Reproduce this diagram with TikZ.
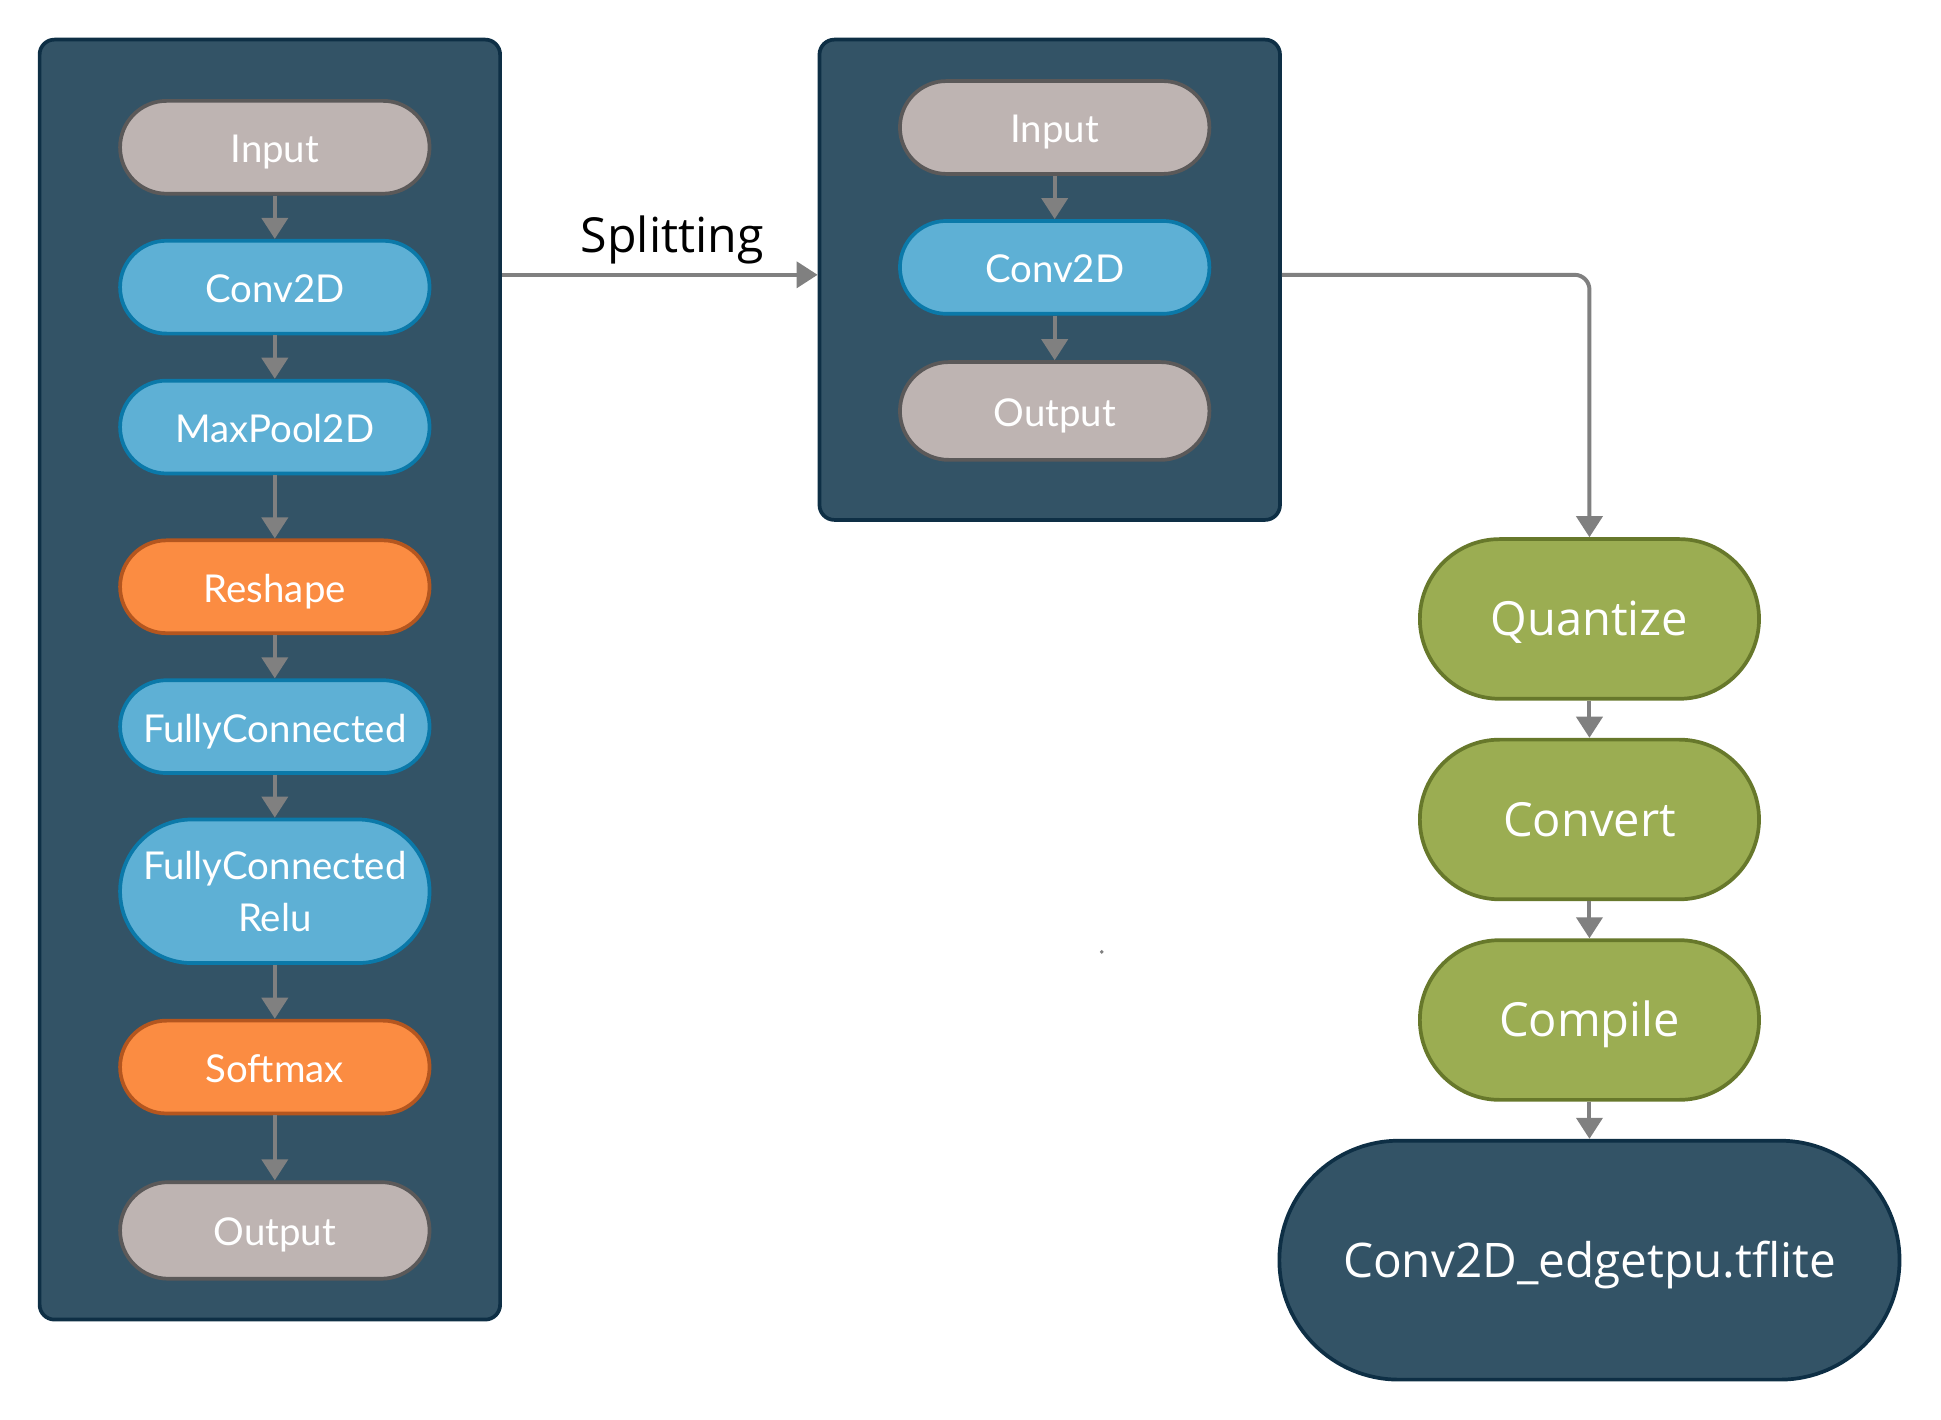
\documentclass[tikz,border=0pt]{standalone}
\usepackage{fontspec}
\setmainfont{Open Sans}
\newfontfamily\latofont{Lato}
\usetikzlibrary{arrows.meta,calc}
\definecolor{panelfill}{HTML}{335366}
\definecolor{panelline}{HTML}{0E2F45}
\definecolor{grayfill}{HTML}{BEB4B2}
\definecolor{grayline}{HTML}{5B5959}
\definecolor{bluefill}{HTML}{5EB0D5}
\definecolor{blueline}{HTML}{0B79A9}
\definecolor{orangefill}{HTML}{FB8C42}
\definecolor{orangeline}{HTML}{B4561F}
\definecolor{greenfill}{HTML}{9BAD52}
\definecolor{greenline}{HTML}{67782B}
\definecolor{arrowgray}{HTML}{808080}
\tikzset{
  panel/.style={draw=panelline, fill=panelfill, line width=3pt, rounded corners=12pt, inner sep=0pt},
  layerbase/.style={line width=3pt, minimum width=250pt, minimum height=75pt, rounded corners=37.5pt,
    inner sep=0pt, text=white, font=\latofont\fontsize{31}{42}\selectfont, align=center},
  tfix/.style={text height=29.5pt, text depth=4.6pt},
  graynode/.style={layerbase, tfix, draw=grayline, fill=grayfill},
  bluenode/.style={layerbase, tfix, draw=blueline, fill=bluefill},
  bluetwo/.style={layerbase, draw=blueline, fill=bluefill, minimum height=116pt, rounded corners=58pt},
  orangenode/.style={layerbase, tfix, draw=orangeline, fill=orangefill},
  stepnode/.style={draw=greenline, fill=greenfill, line width=3pt, minimum width=274pt, minimum height=129pt,
    rounded corners=64.5pt, inner sep=0pt, text=white, font=\fontsize{38}{46}\selectfont,
    text height=35.3pt, text depth=8.4pt},
  finalnode/.style={draw=panelline, fill=panelfill, line width=3pt, minimum width=501pt, minimum height=193pt,
    rounded corners=96.5pt, inner sep=0pt, text=white, font=\fontsize{38.5}{46}\selectfont,
    text height=35.8pt, text depth=8.5pt},
  arr/.style={draw=arrowgray, line width=3.2pt, -{Triangle[width=21pt,length=17pt]}},
}
\begin{document}
\begin{tikzpicture}[x=1pt,y=-1pt]
\useasboundingbox (0,0) rectangle (1568,1147);
% panels
\node[panel, minimum width=372pt, minimum height=1034pt] (lp) at (218,549) {};
\node[panel, minimum width=372pt, minimum height=388pt] (mp) at (848,226) {};
% left column
\node[graynode] (lin) at (222,119) {Input};
\node[bluenode] (lc) at (222,232) {Conv2D};
\node[bluenode] (lmp) at (222,345) {MaxPool2D};
\node[orangenode] (lr) at (222,474) {Reshape};
\node[bluenode] (lfc) at (222,587) {FullyConnected};
\node[bluetwo] (lfr) at (222,720) {FullyConnected\\Relu};
\node[orangenode] (lsm) at (222,862) {Softmax};
\node[graynode, minimum height=78pt, rounded corners=39pt] (lout) at (222,994) {Output};
\draw[arr] (lin) -- (lc);
\draw[arr] (lc) -- (lmp);
\draw[arr] (lmp) -- (lr);
\draw[arr] (lr) -- (lfc);
\draw[arr] (lfc) -- (lfr);
\draw[arr] (lfr) -- (lsm);
\draw[arr] (lsm) -- (lout);
% middle column
\node[graynode] (min) at (852,103) {Input};
\node[bluenode] (mc) at (852,216) {Conv2D};
\node[graynode, minimum height=79pt, rounded corners=39.5pt] (mout) at (852,332) {Output};
\draw[arr] (min) -- (mc);
\draw[arr] (mc) -- (mout);
% splitting
\coordinate (sy) at (0,222);
\draw[arr] (lp.east |- sy) -- node[above=4pt, xshift=10pt, text=black, font=\fontsize{39}{46}\selectfont] (splab) {Splitting} (mp.west |- sy);
% right column
\node[stepnode] (q) at (1284,500) {Quantize};
\node[stepnode] (cv) at (1284,662) {Convert};
\node[stepnode] (cp) at (1284,824) {Compile};
\node[finalnode] (fin) at (1284,1018) {Conv2D\_edgetpu.tflite};
\draw[arr, rounded corners=12pt] (mp.east |- sy) -| (q.north);
\draw[arr] (q) -- (cv);
\draw[arr] (cv) -- (cp);
\draw[arr] (cp) -- (fin);
% stray dot
\fill[arrowgray] (890,769) circle (1.6pt);
\end{tikzpicture}
\end{document}
